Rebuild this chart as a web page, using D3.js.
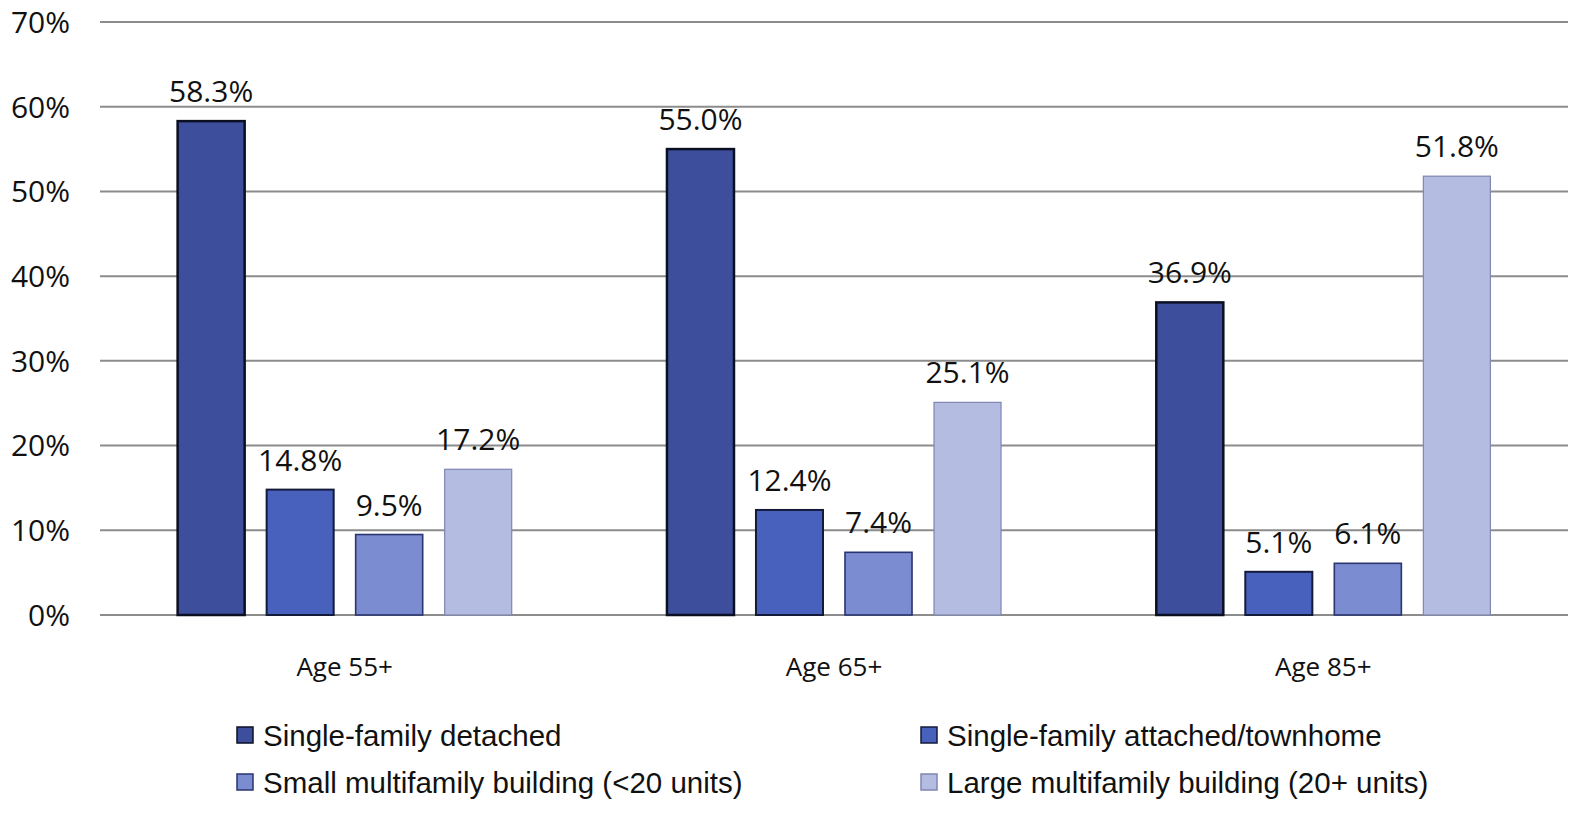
<!DOCTYPE html>
<html><head><meta charset="utf-8">
<script src="https://cdn.jsdelivr.net/npm/d3@7"></script>
<style>body{margin:0;background:#fff}svg{display:block}</style>
</head><body>
<svg id="c" width="1592" height="815"></svg>
<script>
const categories = ["Age 55+", "Age 65+", "Age 85+"];
const seriesNames = ["Single-family detached", "Single-family attached/townhome", "Small multifamily building (<20 units)", "Large multifamily building (20+ units)"];
const detached = [58.3, 55.0, 36.9];
const attached = [14.8, 12.4, 5.1];
const smallMulti = [9.5, 7.4, 6.1];
const largeMulti = [17.2, 25.1, 51.8];
const yTicks = [0, 10, 20, 30, 40, 50, 60, 70];
const fills = ["#3D4F9C", "#4761BC", "#7B8CD0", "#B5BCE1"];
const strokes = ["#0b0f22", "#141a3a", "#2a3470", "#7f86b0"];
const strokeW = [2.5, 2, 1.6, 1.2];

const series = [detached, attached, smallMulti, largeMulti];
const svg = d3.select("#c");
const font = "'Open Sans', sans-serif";

const y = d3.scaleLinear().domain([0, 70]).range([615, 22]);
const x0 = d3.scaleBand().domain(categories).range([100, 1568]).paddingInner(0).paddingOuter(0);
const x1 = d3.scaleBand().domain(d3.range(4)).range([0, x0.bandwidth()]).paddingInner(0.247).paddingOuter(0.872);

// grid
svg.append("g").selectAll("line").data(yTicks).join("line")
  .attr("x1", 100).attr("x2", 1568)
  .attr("y1", d => y(d)).attr("y2", d => y(d))
  .attr("stroke", "#8c8c8c").attr("stroke-width", 2);

// y labels
svg.append("g").selectAll("text").data(yTicks).join("text")
  .attr("x", 70).attr("y", d => y(d)).attr("dy", "0.36em")
  .attr("text-anchor", "end").attr("font-family", font).attr("font-size", 30).attr("fill", "#111")
  .text(d => d + "%");

const g = svg.append("g");
categories.forEach((cat, ci) => {
  series.forEach((s, si) => {
    const v = s[ci];
    const bx = x0(cat) + x1(si);
    g.append("rect")
      .attr("x", bx).attr("width", x1.bandwidth())
      .attr("y", y(v)).attr("height", y(0) - y(v))
      .attr("fill", fills[si]).attr("stroke", strokes[si]).attr("stroke-width", strokeW[si]);
    g.append("text")
      .attr("x", bx + x1.bandwidth() / 2).attr("y", y(v) - 19)
      .attr("text-anchor", "middle").attr("font-family", font).attr("font-size", 30).attr("fill", "#111")
      .text(v.toFixed(1) + "%");
  });
  svg.append("text")
    .attr("x", x0(cat) + x0.bandwidth() / 2).attr("y", 676)
    .attr("text-anchor", "middle").attr("font-family", font).attr("font-size", 26).attr("fill", "#111")
    .text(cat);
});

// legend
const legPos = [[237, 735], [921, 735], [237, 782], [921, 782]];
seriesNames.forEach((name, i) => {
  const [lx, ly] = legPos[i];
  svg.append("rect").attr("x", lx).attr("y", ly - 8).attr("width", 16).attr("height", 16)
    .attr("fill", fills[i]).attr("stroke", strokes[i]).attr("stroke-width", 1.5);
  svg.append("text").attr("x", lx + 26).attr("y", ly).attr("dy", "0.36em")
    .attr("font-family", "'Liberation Sans', Arial, sans-serif").attr("font-size", 29.5).attr("fill", "#111")
    .text(name);
});
</script>
</body></html>
